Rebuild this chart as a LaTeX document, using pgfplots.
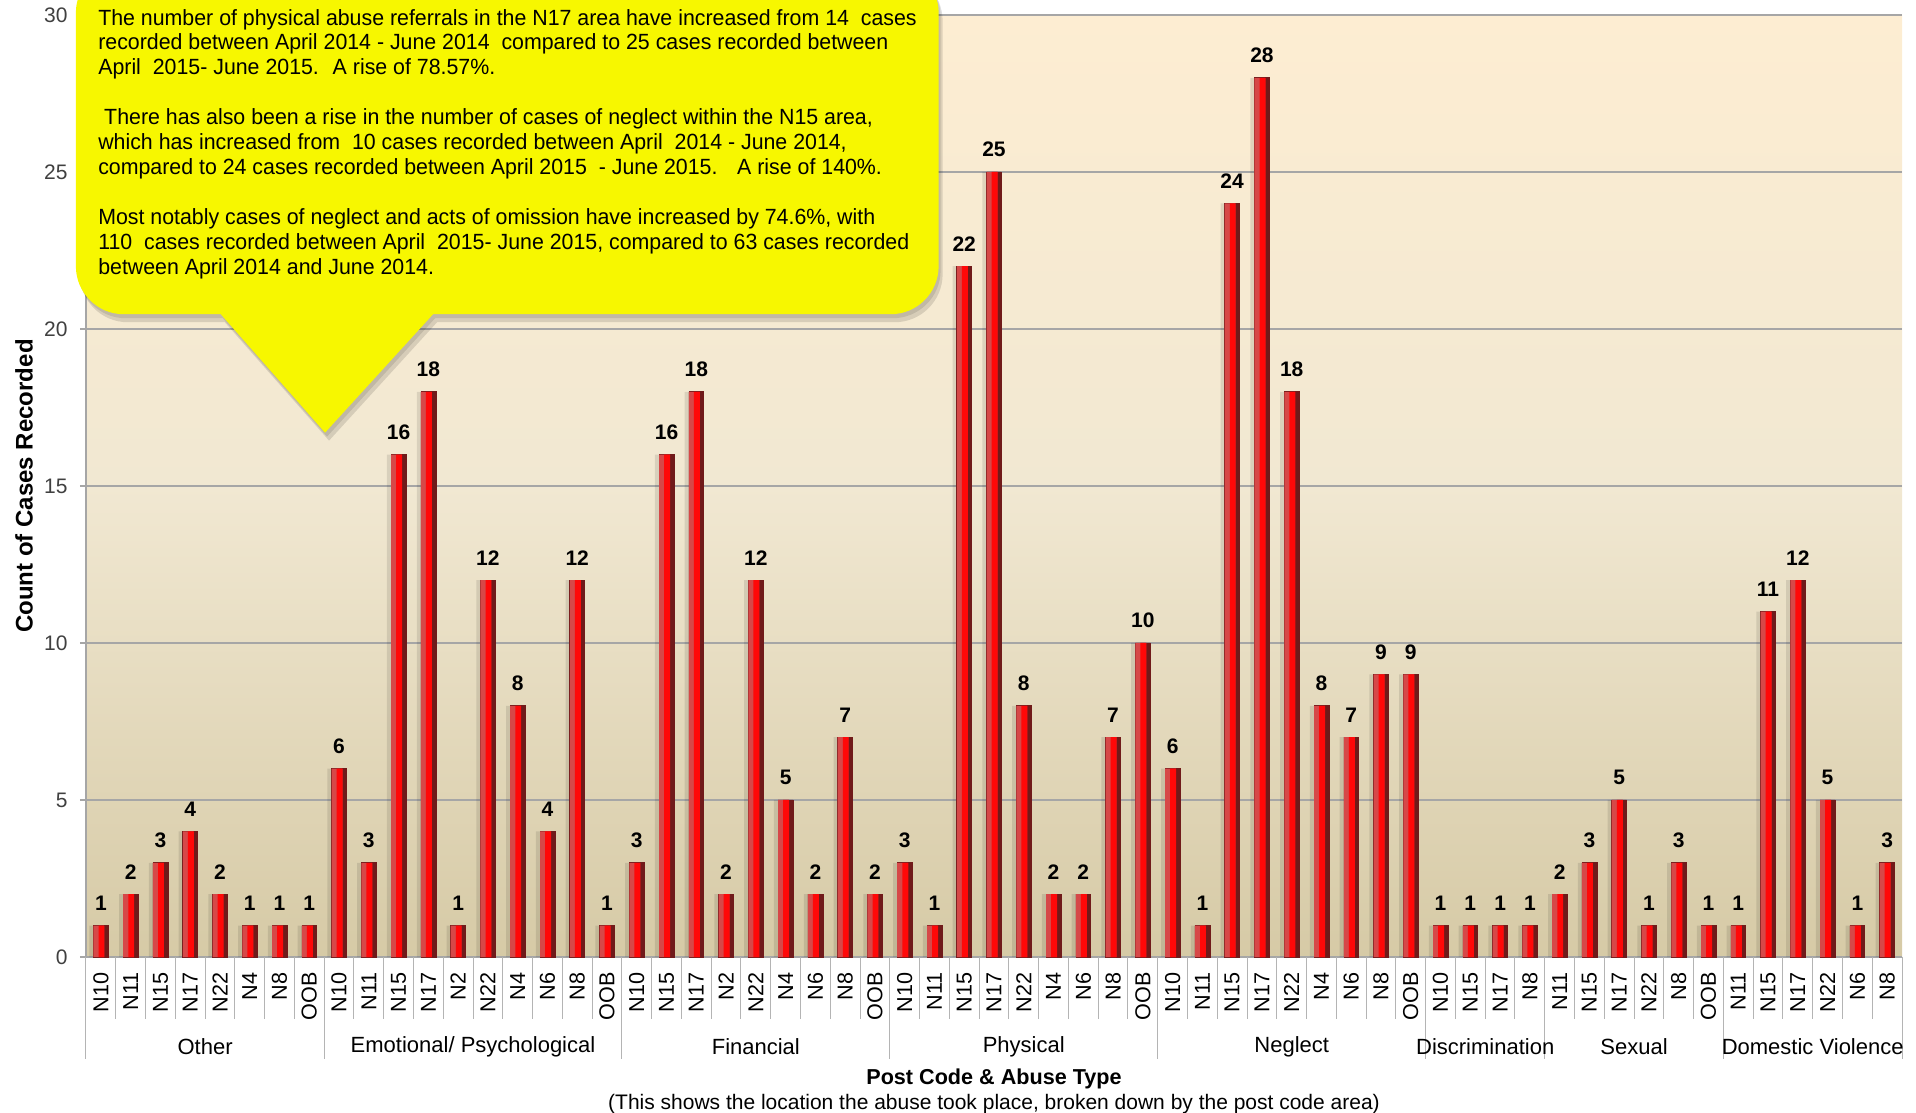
\documentclass[border=0pt]{standalone}
\usepackage{fontspec}
\setmainfont{Liberation Sans}
\newfontfamily\calloutfont{Liberation Sans}[FakeStretch=0.97]
\usepackage{pgfplots}
\pgfplotsset{compat=1.18}

\definecolor{bgtop}{RGB}{253,237,210}
\definecolor{bgmid}{RGB}{241,232,210}
\definecolor{bgbot}{RGB}{214,202,166}
\definecolor{gridgray}{RGB}{166,166,166}
\definecolor{sepgray}{RGB}{180,180,180}
\definecolor{barpink}{RGB}{214,72,72}
\definecolor{barred}{RGB}{255,8,8}
\definecolor{bardark}{RGB}{112,26,26}
\definecolor{callout}{RGB}{247,247,0}
\definecolor{tickgray}{RGB}{64,64,64}

\pgfplotstableread{
x y
0 1
1 2
2 3
3 4
4 2
5 1
6 1
7 1
8 6
9 3
10 16
11 18
12 1
13 12
14 8
15 4
16 12
17 1
18 3
19 16
20 18
21 2
22 12
23 5
24 2
25 7
26 2
27 3
28 1
29 22
30 25
31 8
32 2
33 2
34 7
35 10
36 6
37 1
38 24
39 28
40 18
41 8
42 7
43 9
44 9
45 1
46 1
47 1
48 1
49 2
50 3
51 5
52 1
53 3
54 1
55 1
56 11
57 12
58 5
59 1
60 3
}\cases

% callout outline: rounded box + pointer, in axis units
\newcommand{\calloutpath}{%
  [rounded corners=24pt] (axis cs:-0.84,31.6) -- (axis cs:28.14,31.6) -- (axis cs:28.14,20.47)
  -- (axis cs:-0.84,20.47) -- cycle
  [sharp corners] (axis cs:3.35,21.2) -- (axis cs:11.86,21.2) -- (axis cs:7.53,16.7) -- cycle}

\begin{document}
\begin{tikzpicture}
\begin{axis}[
  scale only axis, width=908pt, height=471pt,
  xmin=-0.5, xmax=60.5, ymin=0, ymax=30,
  enlargelimits=false, clip=false,
  axis x line*=bottom, axis y line*=left,
  axis line style={draw=gridgray, line width=0.6pt, -},
  axis background/.style={top color=bgtop, bottom color=bgbot, middle color=bgmid},
  ymajorgrids, grid style={draw=gridgray, line width=0.6pt},
  ytick={0,5,...,30},
  tick align=outside, major tick length=3pt,
  ytick style={draw=gridgray, line width=0.6pt},
  xtick style={draw=none},
  /pgf/number format/assume math mode=true,
  yticklabel style={font=\fontsize{10.5}{12}\selectfont, text=tickgray, inner sep=0pt, xshift=-6pt},
  xtick=data,
  xticklabels={N10,N11,N15,N17,N22,N4,N8,OOB,
    N10,N11,N15,N17,N2,N22,N4,N6,N8,OOB,
    N10,N15,N17,N2,N22,N4,N6,N8,OOB,
    N10,N11,N15,N17,N22,N4,N6,N8,OOB,
    N10,N11,N15,N17,N22,N4,N6,N8,OOB,
    N10,N15,N17,N8,
    N11,N15,N17,N22,N8,OOB,
    N11,N15,N17,N22,N6,N8},
  xticklabel style={font=\fontsize{10.8}{12}\selectfont, rotate=90, anchor=east, inner sep=0pt},
  xticklabel shift=4.5pt,
]
% soft shadow on the left of each bar
\addplot[ybar, bar width=0.16, bar shift=-0.31, draw=none, fill=black, fill opacity=0.10]
  table[x=x, y=y] {\cases};
% dark right edge (full bar)
\addplot[ybar, bar width=0.5, bar shift=0, draw=bardark, line width=0.3pt, fill=bardark]
  table[x=x, y=y] {\cases};
% light left face
\addplot[ybar, bar width=0.36, bar shift=-0.07, draw=none, fill=barpink]
  table[x=x, y=y] {\cases};
% bright centre with the value labels
\addplot[ybar, bar width=0.2, bar shift=0.02, draw=none, fill=barred,
  nodes near coords,
  nodes near coords style={font=\bfseries\fontsize{10.5}{12}\selectfont, text=black, anchor=south, yshift=4pt}]
  table[x=x, y=y] {\cases};

% separators under the category labels
\pgfplotsinvokeforeach{-0.5,0.5,...,60.5}{
  \draw[sepgray, line width=0.5pt] (axis cs:#1,0) -- ++(0pt,-31pt);
}
% longer separators between abuse types
\pgfplotsinvokeforeach{-0.5,7.5,17.5,26.5,35.5,44.5,48.5,54.5,60.5}{
  \draw[sepgray, line width=0.5pt] (axis cs:#1,0) -- ++(0pt,-51pt);
}
% abuse type names
\tikzset{grp/.style={font=\fontsize{11}{13}\selectfont, anchor=center, yshift=-45pt}}
\node[grp] at (axis cs:3.5,0) {Other};
\node[grp] at (axis cs:12.5,0) {Emotional/ Psychological};
\node[grp] at (axis cs:22,0) {Financial};
\node[grp] at (axis cs:31,0) {Physical};
\node[grp] at (axis cs:40,0) {Neglect};
\node[grp] at (axis cs:46.5,0) {Discrimination};
\node[grp] at (axis cs:51.5,0) {Sexual};
\node[grp] at (axis cs:57.5,0) {Domestic Violence};

\node[font=\bfseries\fontsize{10.8}{13}\selectfont] at (rel axis cs:0.5,0) [yshift=-61pt] {Post Code \& Abuse Type};
\node[font=\fontsize{10.5}{12}\selectfont] at (rel axis cs:0.5,0) [yshift=-73.5pt]
  {(This shows the location the abuse took place, broken down by the post code area)};
\node[font=\bfseries\fontsize{12}{14}\selectfont, rotate=90, anchor=center] at (rel axis cs:-0.0341,0.5)
  {Count of Cases Recorded};

% callout with its shadow
\fill[black, opacity=0.10] [shift={(1pt,-2pt)}] \calloutpath;
\fill[black, opacity=0.12] [shift={(2pt,-4pt)}] \calloutpath;
\fill[callout] \calloutpath;
\node[anchor=north west, inner sep=0pt, align=left,
  font=\calloutfont\fontsize{11}{12.47}\selectfont]
  at (axis cs:-0.10,30.2) {%
The number of physical abuse referrals in the N17 area have increased from 14 \ cases\\
recorded between April 2014 - June 2014 \ compared to 25 cases recorded between\\
April \ 2015- June 2015. \ A rise of 78.57\%.\\[12.47pt]
\ There has also been a rise in the number of cases of neglect within the N15 area,\\
which has increased from \ 10 cases recorded between April \ 2014 - June 2014,\\
compared to 24 cases recorded between April 2015 \ - June 2015. \ \ A rise of 140\%.\\[12.47pt]
Most notably cases of neglect and acts of omission have increased by 74.6\%, with\\
110 \ cases recorded between April \ 2015- June 2015, compared to 63 cases recorded\\
between April 2014 and June 2014.};

\coordinate (O) at (rel axis cs:0,0);
\end{axis}
\pgfresetboundingbox
\path ([xshift=-43pt,yshift=-78pt]O) rectangle ([xshift=915pt,yshift=478.5pt]O);
\end{tikzpicture}
\end{document}
